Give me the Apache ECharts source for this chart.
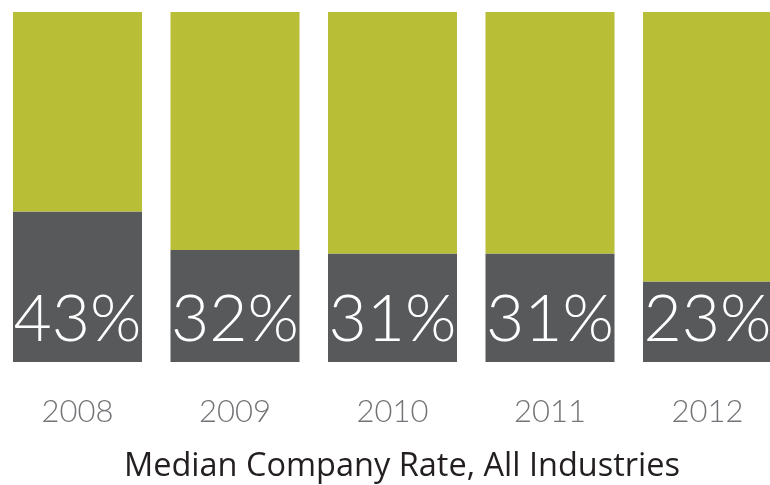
<!DOCTYPE html>
<html>
<head>
<meta charset="utf-8">
<style>
  html, body { margin: 0; padding: 0; background: #fff; }
  #chart { width: 770px; height: 485px; }
</style>
<script src="https://cdn.jsdelivr.net/npm/echarts@6/dist/echarts.min.js"></script>
</head>
<body>
<div id="chart"></div>
<script>
// Years shown along the bottom
const years = ['2008', '2009', '2010', '2011', '2012'];
// Median company rate per year (percent)
const rates = [43, 32, 31, 31, 23];
// Remainder up to 100% for the upper part of each column
const remainder = rates.map(v => 100 - v);
const captionText = 'Median Company Rate, All Industries';

const chart = echarts.init(document.getElementById('chart'), null, { renderer: 'canvas' });

chart.setOption({
  animation: false,
  title: {
    text: captionText,
    left: 397,
    textAlign: 'center',
    top: 445,
    textStyle: {
      fontFamily: '"Open Sans", Lato, sans-serif',
      fontWeight: 400,
      fontSize: 32.5,
      color: '#231F20'
    }
  },
  // the last column runs past the right edge of the canvas
  grid: { left: -1.25, top: 12, width: 787.5, bottom: 123, outerBoundsMode: 'none' },
  xAxis: {
    type: 'category',
    data: years,
    axisLine: { show: false },
    axisTick: { show: false },
    axisLabel: {
      margin: 34,
      fontFamily: 'Lato, "Open Sans", sans-serif',
      fontWeight: 300,
      fontSize: 31,
      color: '#737477'
    }
  },
  yAxis: {
    type: 'value',
    min: 0,
    max: 100,
    show: false,
    splitLine: { show: false }
  },
  series: [
    {
      type: 'bar',
      stack: 'total',
      data: rates,
      barWidth: 129,
      itemStyle: { color: '#58595B' },
      label: {
        show: true,
        position: 'insideBottom',
        distance: 9,
        formatter: p => p.value + '%',
        fontFamily: 'Lato, "Open Sans", sans-serif',
        fontWeight: 300,
        fontSize: 66,
        lineHeight: 66,
        color: '#ffffff'
      }
    },
    {
      type: 'bar',
      stack: 'total',
      data: remainder,
      barWidth: 129,
      itemStyle: { color: '#B8BE36' }
    }
  ]
});
</script>
</body>
</html>
